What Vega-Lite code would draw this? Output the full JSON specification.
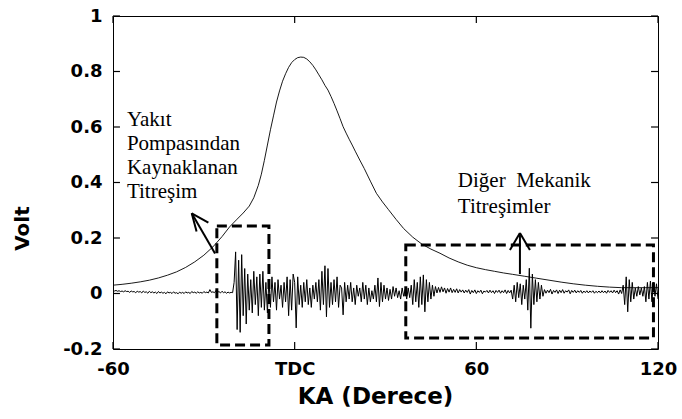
{
  "$schema": "https://vega.github.io/schema/vega-lite/v6.json",
  "autosize": {"type": "none"},
  "padding": {"left": 113, "top": 16, "right": 24, "bottom": 70},
  "width": 545,
  "height": 333,
  "background": "white",
  "config": {
    "view": {"stroke": "black", "strokeWidth": 1},
    "axis": {
      "domain": false, "grid": false, "ticks": false,
      "labelFont": "DejaVu Sans", "labelFontWeight": "bold", "labelFontSize": 18, "labelColor": "black",
      "labelOverlap": false, "labelBound": false, "labelFlush": false,
      "titleFont": "DejaVu Sans", "titleFontWeight": "bold", "titleFontSize": 20, "titleColor": "black"
    }
  },
  "datasets": {
    "noise": [
      {"a":-60,"v":0.012},{"a":-59.5,"v":0.009},{"a":-59,"v":0.011},{"a":-58.5,"v":0.008},{"a":-58,"v":0.010},{"a":-57.5,"v":0.007},{"a":-57,"v":0.009},{"a":-56.5,"v":0.006},{"a":-56,"v":0.010},{"a":-55.5,"v":0.007},
      {"a":-55,"v":0.008},{"a":-54.5,"v":0.004},{"a":-54,"v":0.009},{"a":-53.5,"v":0.006},{"a":-53,"v":0.007},{"a":-52.5,"v":0.003},{"a":-52,"v":0.008},{"a":-51.5,"v":0.005},{"a":-51,"v":0.007},{"a":-50.5,"v":0.002},
      {"a":-50,"v":0.009},{"a":-49.5,"v":0.004},{"a":-49,"v":0.006},{"a":-48.5,"v":0.001},{"a":-48,"v":0.008},{"a":-47.5,"v":0.003},{"a":-47,"v":0.006},{"a":-46.5,"v":0.002},{"a":-46,"v":0.005},{"a":-45.5,"v":0.000},
      {"a":-45,"v":0.007},{"a":-44.5,"v":0.002},{"a":-44,"v":0.005},{"a":-43.5,"v":0.001},{"a":-43,"v":0.004},{"a":-42.5,"v":-0.001},{"a":-42,"v":0.006},{"a":-41.5,"v":0.002},{"a":-41,"v":0.004},{"a":-40.5,"v":0.000},
      {"a":-40,"v":0.006},{"a":-39.5,"v":0.001},{"a":-39,"v":0.003},{"a":-38.5,"v":-0.001},{"a":-38,"v":0.005},{"a":-37.5,"v":0.001},{"a":-37,"v":0.004},{"a":-36.5,"v":0.000},{"a":-36,"v":0.006},{"a":-35.5,"v":0.002},
      {"a":-35,"v":0.004},{"a":-34.5,"v":0.000},{"a":-34,"v":0.007},{"a":-33.5,"v":0.003},{"a":-33,"v":0.005},{"a":-32.5,"v":0.001},{"a":-32,"v":0.006},{"a":-31.5,"v":0.002},{"a":-31,"v":0.004},{"a":-30.5,"v":0.001},
      {"a":-30,"v":0.007},{"a":-29.5,"v":0.003},{"a":-29,"v":0.005},{"a":-28.5,"v":0.002},{"a":-28,"v":0.014},{"a":-27.5,"v":0.004},{"a":-27,"v":0.006},{"a":-26.5,"v":0.003},{"a":-26,"v":0.010},{"a":-25.5,"v":0.004},
      {"a":-25,"v":0.007},{"a":-24.5,"v":0.002},{"a":-24,"v":0.008},{"a":-23.5,"v":0.003},{"a":-23,"v":0.006},{"a":-22.5,"v":0.001},{"a":-22,"v":0.005},{"a":-21.5,"v":0.002},{"a":-21,"v":0.004},{"a":-20.5,"v":0.003},
      {"a":-20,"v":0.04},{"a":-19.5,"v":0.15},{"a":-19,"v":-0.13},{"a":-18.5,"v":0.12},{"a":-18,"v":-0.14},{"a":-17.5,"v":0.14},{"a":-17,"v":-0.08},{"a":-16.5,"v":0.09},{"a":-16,"v":-0.11},{"a":-15.5,"v":0.07},
      {"a":-15,"v":-0.06},{"a":-14.5,"v":0.05},{"a":-14,"v":-0.07},{"a":-13.5,"v":0.08},{"a":-13,"v":-0.04},{"a":-12.5,"v":0.06},{"a":-12,"v":-0.08},{"a":-11.5,"v":0.07},{"a":-11,"v":-0.05},{"a":-10.5,"v":0.08},
      {"a":-10,"v":-0.06},{"a":-9.5,"v":0.04},{"a":-9,"v":-0.07},{"a":-8.5,"v":0.05},{"a":-8,"v":-0.05},{"a":-7.5,"v":0.06},{"a":-7,"v":-0.03},{"a":-6.5,"v":0.04},{"a":-6,"v":-0.06},{"a":-5.5,"v":0.05},
      {"a":-5,"v":-0.02},{"a":-4.5,"v":0.03},{"a":-4,"v":-0.05},{"a":-3.5,"v":0.04},{"a":-3,"v":-0.03},{"a":-2.5,"v":0.06},{"a":-2,"v":-0.08},{"a":-1.5,"v":0.05},{"a":-1,"v":-0.06},{"a":-0.5,"v":0.07},
      {"a":0,"v":0.04},{"a":0.5,"v":-0.124},{"a":1,"v":0.06},{"a":1.5,"v":-0.04},{"a":2,"v":0.03},{"a":2.5,"v":-0.05},{"a":3,"v":0.04},{"a":3.5,"v":-0.03},{"a":4,"v":0.05},{"a":4.5,"v":-0.04},
      {"a":5,"v":0.02},{"a":5.5,"v":-0.05},{"a":6,"v":0.03},{"a":6.5,"v":-0.02},{"a":7,"v":0.04},{"a":7.5,"v":-0.03},{"a":8,"v":0.05},{"a":8.5,"v":-0.06},{"a":9,"v":0.08},{"a":9.5,"v":-0.04},
      {"a":10,"v":0.10},{"a":10.5,"v":-0.084},{"a":11,"v":0.09},{"a":11.5,"v":-0.05},{"a":12,"v":0.04},{"a":12.5,"v":-0.04},{"a":13,"v":0.05},{"a":13.5,"v":-0.03},{"a":14,"v":0.06},{"a":14.5,"v":-0.05},
      {"a":15,"v":0.03},{"a":15.5,"v":0.02},{"a":16,"v":-0.077},{"a":16.5,"v":0.04},{"a":17,"v":-0.03},{"a":17.5,"v":0.03},{"a":18,"v":-0.02},{"a":18.5,"v":0.04},{"a":19,"v":-0.03},{"a":19.5,"v":0.02},
      {"a":20,"v":-0.04},{"a":20.5,"v":0.03},{"a":21,"v":-0.01},{"a":21.5,"v":0.02},{"a":22,"v":-0.03},{"a":22.5,"v":0.04},{"a":23,"v":-0.02},{"a":23.5,"v":0.03},{"a":24,"v":-0.04},{"a":24.5,"v":0.02},
      {"a":25,"v":-0.03},{"a":25.5,"v":0.01},{"a":26,"v":-0.02},{"a":26.5,"v":0.03},{"a":27,"v":-0.03},{"a":27.5,"v":0.056},{"a":28,"v":-0.047},{"a":28.5,"v":0.04},{"a":29,"v":-0.03},{"a":29.5,"v":0.03},
      {"a":30,"v":-0.02},{"a":30.5,"v":0.02},{"a":31,"v":-0.025},{"a":31.5,"v":0.015},{"a":32,"v":-0.02},{"a":32.5,"v":0.025},{"a":33,"v":-0.01},{"a":33.5,"v":0.02},{"a":34,"v":-0.015},{"a":34.5,"v":0.01},
      {"a":35,"v":-0.02},{"a":35.5,"v":0.02},{"a":36,"v":-0.01},{"a":36.5,"v":0.015},{"a":37,"v":-0.02},{"a":37.5,"v":0.02},{"a":38,"v":-0.015},{"a":38.5,"v":0.03},{"a":39,"v":-0.04},{"a":39.5,"v":0.05},
      {"a":40,"v":-0.03},{"a":40.5,"v":0.04},{"a":41,"v":-0.05},{"a":41.5,"v":0.06},{"a":42,"v":-0.04},{"a":42.5,"v":0.067},{"a":43,"v":-0.066},{"a":43.5,"v":0.05},{"a":44,"v":-0.03},{"a":44.5,"v":0.04},
      {"a":45,"v":-0.02},{"a":45.5,"v":0.03},{"a":46,"v":-0.01},{"a":46.5,"v":0.025},{"a":47,"v":0.002},{"a":47.5,"v":0.022},{"a":48,"v":0.004},{"a":48.5,"v":0.024},{"a":49,"v":0.006},{"a":49.5,"v":0.02},
      {"a":50,"v":0.001},{"a":50.5,"v":0.018},{"a":51,"v":0.005},{"a":51.5,"v":0.02},{"a":52,"v":0.003},{"a":52.5,"v":0.015},{"a":53,"v":0.004},{"a":53.5,"v":0.017},{"a":54,"v":0.002},{"a":54.5,"v":0.014},
      {"a":55,"v":0.005},{"a":55.5,"v":0.013},{"a":56,"v":0.002},{"a":56.5,"v":0.012},{"a":57,"v":0.004},{"a":57.5,"v":0.014},{"a":58,"v":-0.002},{"a":58.5,"v":0.011},{"a":59,"v":0.003},{"a":59.5,"v":0.013},
      {"a":60,"v":0.000},{"a":60.5,"v":0.010},{"a":61,"v":0.004},{"a":61.5,"v":0.012},{"a":62,"v":-0.001},{"a":62.5,"v":0.009},{"a":63,"v":0.005},{"a":63.5,"v":0.011},{"a":64,"v":0.002},{"a":64.5,"v":0.012},
      {"a":65,"v":0.003},{"a":65.5,"v":0.010},{"a":66,"v":0.000},{"a":66.5,"v":0.011},{"a":67,"v":0.004},{"a":67.5,"v":0.012},{"a":68,"v":0.001},{"a":68.5,"v":0.010},{"a":69,"v":0.003},{"a":69.5,"v":0.013},
      {"a":70,"v":0.000},{"a":70.5,"v":0.011},{"a":71,"v":0.002},{"a":71.5,"v":0.012},{"a":72,"v":-0.02},{"a":72.5,"v":0.03},{"a":73,"v":-0.03},{"a":73.5,"v":0.04},{"a":74,"v":-0.015},{"a":74.5,"v":0.035},
      {"a":75,"v":-0.04},{"a":75.5,"v":0.03},{"a":76,"v":-0.02},{"a":76.5,"v":0.05},{"a":77,"v":-0.06},{"a":77.5,"v":0.091},{"a":78,"v":-0.125},{"a":78.5,"v":0.07},{"a":79,"v":-0.04},{"a":79.5,"v":0.05},
      {"a":80,"v":-0.03},{"a":80.5,"v":0.04},{"a":81,"v":-0.02},{"a":81.5,"v":0.03},{"a":82,"v":-0.01},{"a":82.5,"v":0.014},{"a":83,"v":0.001},{"a":83.5,"v":0.012},{"a":84,"v":0.003},{"a":84.5,"v":0.015},
      {"a":85,"v":-0.002},{"a":85.5,"v":0.011},{"a":86,"v":0.004},{"a":86.5,"v":0.013},{"a":87,"v":0.000},{"a":87.5,"v":0.012},{"a":88,"v":0.003},{"a":88.5,"v":0.014},{"a":89,"v":0.001},{"a":89.5,"v":0.010},
      {"a":90,"v":0.005},{"a":90.5,"v":0.013},{"a":91,"v":-0.001},{"a":91.5,"v":0.011},{"a":92,"v":0.004},{"a":92.5,"v":0.012},{"a":93,"v":0.002},{"a":93.5,"v":0.010},{"a":94,"v":0.004},{"a":94.5,"v":0.011},
      {"a":95,"v":0.001},{"a":95.5,"v":0.009},{"a":96,"v":0.003},{"a":96.5,"v":0.010},{"a":97,"v":0.002},{"a":97.5,"v":0.009},{"a":98,"v":0.004},{"a":98.5,"v":0.010},{"a":99,"v":0.001},{"a":99.5,"v":0.008},
      {"a":100,"v":0.003},{"a":100.5,"v":0.009},{"a":101,"v":0.002},{"a":101.5,"v":0.010},{"a":102,"v":0.003},{"a":102.5,"v":0.009},{"a":103,"v":0.001},{"a":103.5,"v":0.011},{"a":104,"v":0.004},{"a":104.5,"v":0.010},
      {"a":105,"v":0.002},{"a":105.5,"v":0.012},{"a":106,"v":0.003},{"a":106.5,"v":0.010},{"a":107,"v":-0.002},{"a":107.5,"v":0.013},{"a":108,"v":0.000},{"a":108.5,"v":0.03},{"a":109,"v":-0.04},{"a":109.5,"v":0.06},
      {"a":110,"v":-0.066},{"a":110.5,"v":0.05},{"a":111,"v":-0.03},{"a":111.5,"v":0.04},{"a":112,"v":-0.02},{"a":112.5,"v":0.02},{"a":113,"v":-0.01},{"a":113.5,"v":0.025},{"a":114,"v":-0.005},{"a":114.5,"v":0.02},
      {"a":115,"v":-0.01},{"a":115.5,"v":0.025},{"a":116,"v":-0.03},{"a":116.5,"v":0.04},{"a":117,"v":-0.02},{"a":117.5,"v":0.045},{"a":118,"v":-0.03},{"a":118.5,"v":0.04},{"a":119,"v":-0.01},{"a":119.5,"v":0.035},
      {"a":120,"v":-0.02}
    ],
    "smooth": [
      {"a":-60,"v":0.030},{"a":-57,"v":0.033},{"a":-54,"v":0.037},{"a":-51,"v":0.042},{"a":-48,"v":0.048},{"a":-45,"v":0.056},{"a":-42,"v":0.066},{"a":-39,"v":0.078},{"a":-36,"v":0.094},{"a":-33,"v":0.114},
      {"a":-30,"v":0.138},{"a":-27,"v":0.168},{"a":-24,"v":0.205},{"a":-21.5,"v":0.240},{"a":-19,"v":0.268},{"a":-17,"v":0.290},{"a":-15,"v":0.315},{"a":-13.5,"v":0.345},{"a":-12,"v":0.390},{"a":-11,"v":0.430},
      {"a":-10,"v":0.480},{"a":-9,"v":0.535},{"a":-8,"v":0.590},{"a":-7,"v":0.640},{"a":-6,"v":0.690},{"a":-5,"v":0.730},{"a":-4,"v":0.765},{"a":-3,"v":0.792},{"a":-2,"v":0.815},{"a":-1,"v":0.832},
      {"a":0,"v":0.843},{"a":1,"v":0.850},{"a":2,"v":0.852},{"a":3,"v":0.851},{"a":4,"v":0.845},{"a":5,"v":0.835},{"a":6,"v":0.822},{"a":7,"v":0.806},{"a":8,"v":0.788},{"a":9,"v":0.770},
      {"a":10,"v":0.750},{"a":11,"v":0.733},{"a":12,"v":0.710},{"a":13,"v":0.685},{"a":14,"v":0.658},{"a":15,"v":0.630},{"a":16,"v":0.601},{"a":17,"v":0.578},{"a":18,"v":0.556},{"a":19,"v":0.535},
      {"a":20,"v":0.513},{"a":21.5,"v":0.481},{"a":23,"v":0.450},{"a":25,"v":0.405},{"a":27,"v":0.361},{"a":29,"v":0.330},{"a":31,"v":0.302},{"a":33.5,"v":0.267},{"a":36,"v":0.234},{"a":39,"v":0.203},
      {"a":42,"v":0.178},{"a":45,"v":0.160},{"a":48,"v":0.145},{"a":51,"v":0.128},{"a":54,"v":0.114},{"a":57,"v":0.102},{"a":60,"v":0.093},{"a":63,"v":0.086},{"a":66,"v":0.080},{"a":69,"v":0.074},
      {"a":72,"v":0.069},{"a":76,"v":0.062},{"a":80,"v":0.055},{"a":84,"v":0.048},{"a":88,"v":0.041},{"a":92,"v":0.035},{"a":96,"v":0.030},{"a":100,"v":0.026},{"a":104,"v":0.023},{"a":108,"v":0.021},
      {"a":112,"v":0.021},{"a":116,"v":0.021},{"a":120,"v":0.021}
    ],
    "boxes": [
      {"x":-25.7,"x2":-8.5,"y":-0.186,"y2":0.243},
      {"x":36.7,"x2":118.5,"y":-0.160,"y2":0.175}
    ],
    "arrows": [
      {"x":-34.0,"y":0.289,"x2":-26.3,"y2":0.144},
      {"x":-34.0,"y":0.289,"x2":-28.5,"y2":0.255},
      {"x":-34.0,"y":0.289,"x2":-32.4,"y2":0.223},
      {"x":74.4,"y":0.218,"x2":74.4,"y2":0.07},
      {"x":74.4,"y":0.218,"x2":71.1,"y2":0.157},
      {"x":74.4,"y":0.218,"x2":77.7,"y2":0.157}
    ],
    "notes": [
      {"x":-55.4,"y":0.604,"t":"Yakıt"},
      {"x":-55.4,"y":0.517,"t":"Pompasından"},
      {"x":-55.4,"y":0.431,"t":"Kaynaklanan"},
      {"x":-55.4,"y":0.344,"t":"Titreşim"},
      {"x":53.9,"y":0.385,"t":"Diğer\u00a0 Mekanik"},
      {"x":53.9,"y":0.291,"t":"Titreşimler"}
    ],
    "xticks": [{"t": -60}, {"t": 0}, {"t": 60}, {"t": 120}],
    "yticks": [{"t": -0.2}, {"t": 0}, {"t": 0.2}, {"t": 0.4}, {"t": 0.6}, {"t": 0.8}, {"t": 1}]
  },
  "layer": [
    {
      "data": {"name": "smooth"},
      "mark": {"type": "line", "color": "black", "strokeWidth": 0.9},
      "encoding": {
        "x": {"field": "a", "type": "quantitative", "scale": {"domain": [-60, 120], "nice": false, "zero": false},
              "axis": {"orient": "bottom", "values": [-60, 0, 60, 120], "title": "KA (Derece)",
                       "labelPadding": 11, "titleFontSize": 23,
                       "labelExpr": "datum.value == 0 ? 'TDC' : (datum.value < 0 ? '-' + (-datum.value) : '' + datum.value)",
                       "titleX": 262, "titleY": 47, "titleBaseline": "middle", "titleAnchor": null}},
        "y": {"field": "v", "type": "quantitative", "scale": {"domain": [-0.2, 1], "nice": false, "zero": false},
              "axis": {"orient": "left", "values": [-0.2, 0, 0.2, 0.4, 0.6, 0.8, 1], "title": "Volt",
                       "labelPadding": 11,
                       "labelExpr": "datum.value < 0 ? '-' + (-datum.value) : '' + datum.value",
                       "titleX": -91, "titleY": 212, "titleAngle": 270, "titleBaseline": "middle", "titleAlign": "center"}}
      }
    },
    {
      "data": {"name": "noise"},
      "mark": {"type": "line", "color": "black", "strokeWidth": 1},
      "encoding": {
        "x": {"field": "a", "type": "quantitative"},
        "y": {"field": "v", "type": "quantitative"}
      }
    },
    {
      "data": {"name": "boxes"},
      "mark": {"type": "rect", "fillOpacity": 0, "stroke": "black", "strokeWidth": 3, "strokeDash": [10, 5]},
      "encoding": {
        "x": {"field": "x", "type": "quantitative"},
        "x2": {"field": "x2"},
        "y": {"field": "y", "type": "quantitative"},
        "y2": {"field": "y2"}
      }
    },
    {
      "data": {"name": "arrows"},
      "mark": {"type": "rule", "color": "black", "strokeWidth": 2},
      "encoding": {
        "x": {"field": "x", "type": "quantitative"},
        "x2": {"field": "x2"},
        "y": {"field": "y", "type": "quantitative"},
        "y2": {"field": "y2"}
      }
    },
    {
      "data": {"name": "xticks"},
      "mark": {"type": "rule", "color": "black", "strokeWidth": 1.2},
      "encoding": {
        "x": {"field": "t", "type": "quantitative"},
        "y": {"datum": -0.2, "type": "quantitative"},
        "y2": {"datum": -0.175}
      }
    },
    {
      "data": {"name": "xticks"},
      "mark": {"type": "rule", "color": "black", "strokeWidth": 1.2},
      "encoding": {
        "x": {"field": "t", "type": "quantitative"},
        "y": {"datum": 1, "type": "quantitative"},
        "y2": {"datum": 0.975}
      }
    },
    {
      "data": {"name": "yticks"},
      "mark": {"type": "rule", "color": "black", "strokeWidth": 1.2},
      "encoding": {
        "y": {"field": "t", "type": "quantitative"},
        "x": {"datum": -60, "type": "quantitative"},
        "x2": {"datum": -57.7}
      }
    },
    {
      "data": {"name": "yticks"},
      "mark": {"type": "rule", "color": "black", "strokeWidth": 1.2},
      "encoding": {
        "y": {"field": "t", "type": "quantitative"},
        "x": {"datum": 120, "type": "quantitative"},
        "x2": {"datum": 117.7}
      }
    },
    {
      "data": {"name": "notes"},
      "mark": {"type": "text", "font": "Liberation Serif, Times New Roman, serif", "fontSize": 21, "color": "black", "align": "left", "baseline": "alphabetic"},
      "encoding": {
        "x": {"field": "x", "type": "quantitative"},
        "y": {"field": "y", "type": "quantitative"},
        "text": {"field": "t"}
      }
    }
  ]
}
